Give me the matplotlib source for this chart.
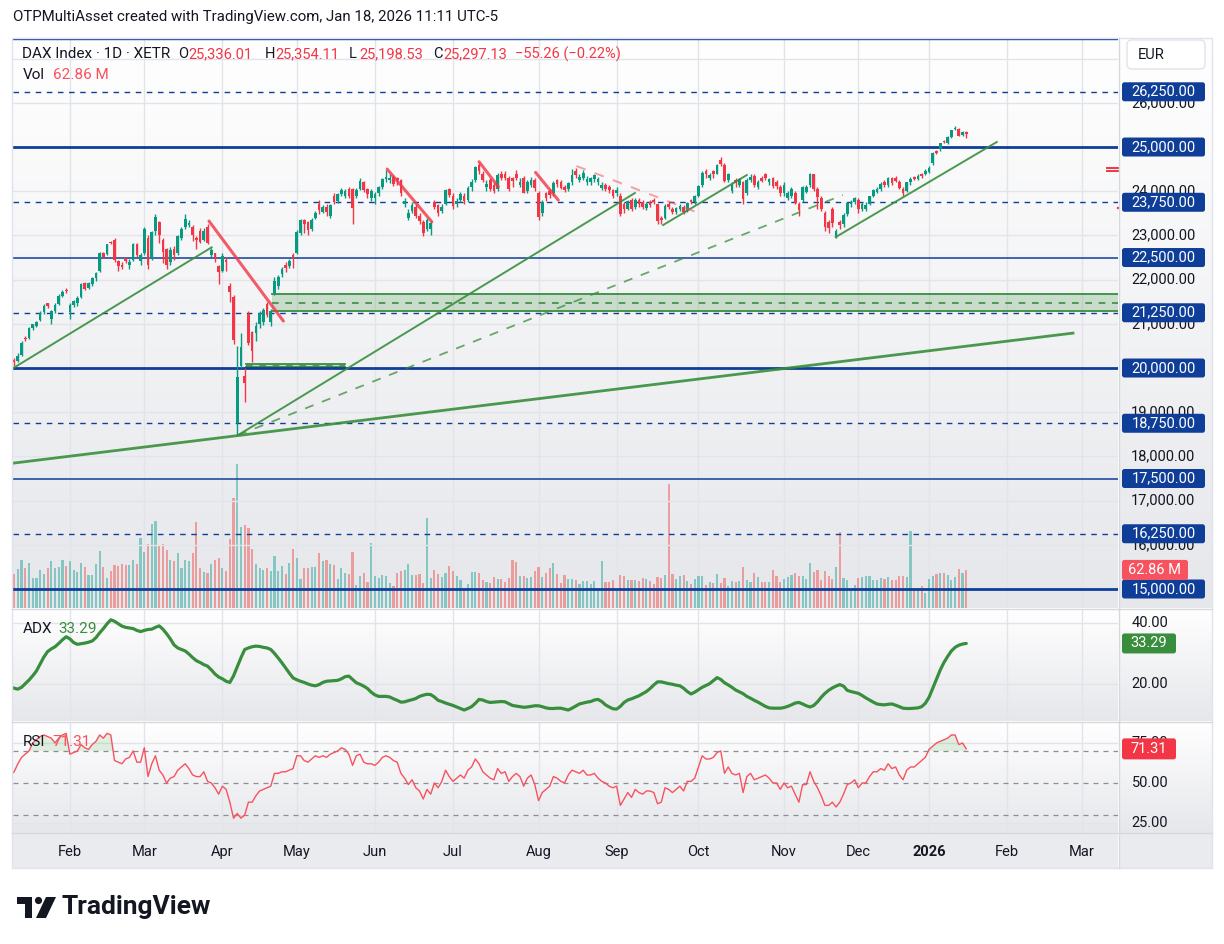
import numpy as np
import pandas as pd
import matplotlib.pyplot as plt
from matplotlib.colors import LinearSegmentedColormap
from matplotlib.patches import FancyBboxPatch, Rectangle, Circle, Polygon

plt.rcParams['font.family'] = ['Roboto', 'DejaVu Sans']

# ---------------- data ----------------
holidays = pd.to_datetime(['2025-04-18', '2025-04-21', '2025-05-01', '2025-12-24',
                           '2025-12-25', '2025-12-26', '2025-12-31', '2026-01-01'])
sessions = pd.bdate_range('2025-01-10', '2026-03-31')
sessions = sessions[~sessions.isin(holidays)]

open_ = (
    [20330, 20190, 20150, 20300, 20690, 20680, 20910, 20960, 21090, 21260, 21460, 21100, 21300, 21450, 21640, 21760] +
    [21260, 21420, 21480, 21600, 21930, 21800, 21900, 22030, 22200, 22600, 22580, 22860, 22900, 22430, 22340, 22480, 22330, 22450, 22800, 22420] +
    [22600, 22950, 22500, 23100, 23300, 22900, 22700, 22400, 22700, 22600, 22950, 23200, 23240, 23200, 22950, 23100, 22900, 23200, 22560, 22600, 22300] +
    [22200, 22450, 21850, 21600, 18750, 20050, 19820, 21230, 20810, 20800, 21000, 21050, 21450, 21050, 21700, 21850, 22130, 22330, 22310, 22560] +
    [22600, 23050, 23360, 23300, 23150, 23400, 23700, 23520, 23650, 23450, 23900, 23780, 23940, 23900, 24050, 24050, 23900, 24050, 24200, 24050, 23850] +
    [23850, 23950, 24100, 24270, 24250, 24330, 24300, 24250, 23700, 23400, 23560, 23650, 23450, 23300, 23150, 23150, 23750, 23690, 23550, 23700, 24050] +
    [23900, 23700, 23800, 23900, 23800, 24100, 24250, 24600, 24400, 24100, 24250, 24150, 24050, 24400, 24400, 24300, 24300, 24400, 24150, 24300, 24000, 24150, 24250] +
    [23950, 23500, 23950, 24000, 23950, 24250, 24200, 24100, 24050, 24200, 24450, 24250, 24300, 24200, 24200, 24280, 24200, 24080, 24150, 24100, 24020] +
    [23950, 23900, 23700, 23600, 23800, 23650, 23800, 23750, 23620, 23750, 23800, 23700, 23400, 23400, 23720, 23600, 23520, 23600, 23650, 23550, 23800, 23750] +
    [23900, 24150, 24450, 24300, 24450, 24400, 24700, 24600, 24250, 24000, 24250, 24150, 24200, 23950, 24250, 24350, 24100, 24300, 24380, 24200, 24300, 24200, 24100] +
    [23950, 23850, 23900, 23950, 23700, 23800, 23980, 24150, 24380, 24050, 23850, 23500, 23300, 23600, 22980, 23300, 23250, 23480, 23700, 23760] +
    [23800, 23600, 23600, 23700, 23900, 23980, 24050, 24200, 24150, 24300, 24300, 24200, 24050, 24000, 24200, 24320, 24280, 24400, 24380] +
    [24430, 24640, 24900, 24950, 25140, 25090, 25230, 25400, 25410, 25270, 25336.01]
)
high = (
    [20350, 20230, 20330, 20600, 20720, 20920, 21000, 21070, 21290, 21440, 21480, 21320, 21460, 21680, 21760, 21800] +
    [21470, 21530, 21620, 21920, 21940, 21940, 22070, 22180, 22620, 22620, 22810, 22880, 22940, 22440, 22400, 22500, 22470, 22830, 22830, 22600] +
    [23200, 23000, 23100, 23475, 23320, 22940, 22720, 22730, 22750, 23000, 23200, 23480, 23350, 23230, 22990, 23160, 23170, 23260, 22720, 22610, 22330] +
    [22600, 22520, 21930, 21650, 20500, 20800, 20000, 21300, 20840, 21050, 21300, 21360, 21500, 21340, 22050, 22100, 22280, 22400, 22460, 22600] +
    [23120, 23380, 23380, 23320, 23400, 23560, 23800, 23680, 23700, 23720, 23950, 23970, 24080, 24060, 24100, 24080, 24070, 24300, 24240, 24080, 24040] +
    [23990, 24120, 24300, 24480, 24390, 24360, 24320, 24280, 23840, 23600, 23760, 23700, 23500, 23350, 23400, 23320, 23800, 23720, 23700, 24060, 24080] +
    [23950, 23850, 23980, 23950, 24120, 24280, 24580, 24640, 24450, 24250, 24300, 24200, 24420, 24450, 24460, 24350, 24330, 24480, 24300, 24350, 24250, 24320, 24300] +
    [24000, 23800, 23980, 24050, 24230, 24280, 24250, 24150, 24220, 24500, 24530, 24380, 24480, 24350, 24330, 24400, 24320, 24200, 24180, 24150, 24050] +
    [24100, 23950, 23750, 23800, 23850, 23850, 23850, 23800, 23750, 23800, 23850, 23720, 23450, 23700, 23760, 23650, 23650, 23720, 23680, 23760, 23830, 23920] +
    [24150, 24450, 24500, 24420, 24480, 24620, 24771, 24640, 24420, 24200, 24300, 24300, 24230, 24300, 24380, 24380, 24250, 24350, 24420, 24300, 24320, 24250, 24150] +
    [24200, 24000, 24100, 24000, 23750, 24120, 24150, 24420, 24400, 24100, 23900, 23550, 23350, 23650, 23150, 23350, 23500, 23750, 23800, 23880] +
    [23850, 23750, 23750, 23900, 24060, 24100, 24200, 24250, 24320, 24320, 24350, 24250, 24100, 24220, 24320, 24350, 24380, 24420, 24510] +
    [24560, 24880, 24930, 25100, 25160, 25240, 25390, 25480, 25440, 25360, 25354.11]
)
low = (
    [20180, 20040, 20140, 20280, 20600, 20660, 20870, 20920, 21070, 21230, 21360, 21000, 21250, 21420, 21600, 21700] +
    [21100, 21370, 21400, 21580, 21770, 21780, 21860, 21960, 22180, 22480, 22550, 22800, 22400, 22200, 22230, 22370, 22250, 22430, 22520, 22330] +
    [22560, 22230, 22450, 23000, 22820, 22380, 22230, 22340, 22450, 22550, 22900, 23150, 23180, 22880, 22700, 22820, 22870, 22800, 22510, 22400, 21900] +
    [22180, 22200, 21500, 20550, 18490, 19990, 19240, 20520, 20130, 20600, 20900, 20980, 21150, 20960, 21650, 21780, 22050, 22180, 22270, 22260] +
    [22580, 23000, 23050, 23000, 23100, 23380, 23480, 23500, 23450, 23400, 23720, 23740, 23900, 23850, 23850, 23250, 23850, 24020, 23980, 23850, 23770] +
    [23700, 23900, 24050, 24220, 24180, 24120, 24150, 23900, 23650, 23350, 23500, 23400, 23250, 22980, 23100, 23000, 23600, 23450, 23500, 23680, 23880] +
    [23600, 23650, 23750, 23700, 23750, 24000, 24200, 24400, 24200, 24000, 24000, 23950, 24000, 24250, 24250, 24000, 24100, 24250, 24100, 23950, 23950, 24100, 24000] +
    [23350, 23450, 23780, 23850, 23900, 24100, 24050, 23980, 24000, 24150, 24300, 24200, 24250, 24150, 24150, 24220, 24150, 24030, 24000, 23950, 23850] +
    [23900, 23450, 23500, 23580, 23550, 23600, 23650, 23600, 23580, 23650, 23700, 23250, 23250, 23380, 23600, 23480, 23480, 23560, 23480, 23520, 23700, 23700] +
    [23880, 24100, 24300, 24250, 24300, 24380, 24580, 24200, 24200, 23950, 24100, 24100, 23700, 23920, 24200, 24100, 24050, 24200, 24250, 24150, 24080, 24050, 23900] +
    [23900, 23800, 23850, 23700, 23450, 23750, 23950, 24100, 24000, 23600, 23550, 23100, 23050, 23200, 22940, 23150, 23200, 23450, 23650, 23700] +
    [23500, 23550, 23550, 23680, 23880, 23950, 24000, 24100, 24100, 24150, 24200, 24050, 23900, 23980, 24150, 24250, 24250, 24300, 24360] +
    [24410, 24600, 24840, 24920, 25080, 25060, 25210, 25380, 25240, 25240, 25198.53]
)
close = (
    [20215, 20132, 20271, 20575, 20655, 20903, 20990, 21043, 21254, 21411, 21395, 21282, 21430, 21637, 21727, 21732] +
    [21428, 21505, 21586, 21902, 21787, 21918, 22037, 22148, 22612, 22513, 22798, 22830, 22434, 22315, 22287, 22425, 22410, 22795, 22551, 22551] +
    [23147, 22327, 23081, 23419, 23009, 22620, 22329, 22676, 22567, 22987, 23154, 23380, 23288, 22999, 22892, 22852, 23109, 22839, 22679, 22461, 22163] +
    [22540, 22390, 21717, 20642, 19789, 20470, 19670, 20560, 20374, 20954, 21254, 21311, 21206, 21294, 21962, 22064, 22242, 22272, 22426, 22497] +
    [23087, 23345, 23249, 23116, 23353, 23499, 23567, 23639, 23527, 23696, 23767, 23935, 24036, 23999, 23900, 23630, 24027, 24226, 24039, 23933, 23997] +
    [23930, 24091, 24276, 24324, 24304, 24174, 24246, 23949, 23771, 23516, 23699, 23435, 23317, 23057, 23350, 23270, 23641, 23498, 23649, 24033, 23910] +
    [23673, 23790, 23934, 23787, 24073, 24207, 24550, 24457, 24255, 24160, 24060, 24009, 24370, 24290, 24307, 24042, 24240, 24295, 24217, 23970, 24217, 24262, 24065] +
    [23426, 23757, 23847, 23924, 24193, 24163, 24081, 24024, 24186, 24377, 24359, 24314, 24423, 24277, 24293, 24363, 24273, 24152, 24046, 24039, 23902] +
    [24037, 23487, 23595, 23770, 23597, 23807, 23718, 23633, 23704, 23698, 23749, 23330, 23359, 23675, 23639, 23527, 23611, 23666, 23534, 23739, 23745, 23881] +
    [24113, 24423, 24379, 24378, 24385, 24597, 24611, 24241, 24387, 24136, 24181, 24272, 23830, 24259, 24330, 24151, 24207, 24240, 24309, 24278, 24124, 24118, 23958] +
    [24132, 23949, 24050, 23734, 23569, 24088, 24088, 24381, 24041, 23877, 23590, 23180, 23163, 23278, 23091, 23239, 23465, 23726, 23767, 23836] +
    [23589, 23710, 23693, 23882, 24028, 24046, 24162, 24130, 24294, 24186, 24229, 24076, 23960, 24199, 24288, 24283, 24340, 24351, 24450] +
    [24530, 24860, 24870, 25090, 25110, 25230, 25380, 25420, 25260, 25340, 25297.13]
)
# volume in millions
volume = [
    75.5, 56.2, 64.5, 79.3, 66.1, 74.4, 49.6, 49.6, 62.8, 56.2,
    66.1, 77.7, 66.1, 67.8, 79.3, 69.4, 77.7, 62.8, 59.5, 74.4,
    67.8, 54.5, 54.5, 72.7, 94.2, 67.8, 49.6, 61.2, 71.1, 69.4,
    72.7, 71.1, 71.1, 79.3, 72.7, 115.7, 92.6, 105.8, 138.9, 143.8,
    104.1, 105.8, 95.9, 79.3, 77.7, 90.9, 66.1, 79.3, 77.7, 90.9,
    142.2, 66.1, 59.5, 57.9, 72.7, 79.3, 82.7, 66.1, 61.2, 114.1,
    181.8, 238.0, 133.9, 137.2, 132.2, 97.5, 72.7, 66.1, 62.8, 66.1,
    61.2, 86.0, 61.2, 69.4, 56.2, 74.4, 97.5, 82.7, 47.9, 66.1,
    66.1, 67.8, 67.8, 90.9, 77.7, 79.3, 72.7, 71.1, 47.9, 66.1,
    57.9, 56.2, 92.6, 38.0, 52.9, 57.9, 43.0, 107.4, 52.9, 49.6,
    54.5, 52.9, 41.3, 36.4, 57.9, 61.2, 62.8, 72.7, 54.5, 54.5,
    56.2, 41.3, 148.8, 49.6, 62.8, 56.2, 51.2, 57.9, 69.4, 61.2,
    52.9, 46.3, 33.1, 39.7, 59.5, 59.5, 57.9, 46.3, 43.0, 41.3,
    51.2, 47.9,
    47.9, 43.0, 49.6, 79.3, 76.0, 52.9, 52.9, 49.6, 51.2, 61.2,
    67.8, 51.2, 57.9, 66.1, 74.4, 56.2, 41.3, 54.5, 47.9, 47.9,
    46.3, 39.7, 44.6, 44.6, 39.7, 44.6, 31.4, 77.7, 43.0, 43.0,
    46.3, 28.1, 54.5, 52.9, 46.3, 46.3, 46.3, 44.6, 49.6, 47.9,
    44.6, 39.7, 51.2, 49.6, 54.5, 205.0, 56.2, 47.9, 52.9, 54.5,
    44.6, 39.7, 47.9, 52.9, 52.9, 38.0, 43.0, 41.3, 56.2, 41.3,
    49.6, 36.4, 44.6, 43.0, 44.6, 67.8, 46.3, 43.0, 57.9, 51.2,
    43.0, 43.0, 43.0, 62.8, 52.9, 43.0, 47.9, 51.2, 54.5, 57.9,
    52.9, 52.9, 47.9, 74.4, 59.5, 62.8, 46.3, 61.2, 52.9, 47.9,
    67.8, 125.6, 49.6, 46.3, 31.4, 38.0, 49.6, 51.2, 52.9, 52.9,
    46.3, 46.3, 49.6, 47.9, 51.2, 46.3, 46.3, 52.9, 52.9, 51.2,
    127.3, 33.1, 29.8, 36.4, 24.8, 47.9, 52.9, 56.2, 57.9, 57.9,
    54.5, 46.3, 51.2, 64.5, 57.9, 62.86,
]
adx = [
    19.0, 18.5, 18.2, 18.8, 20.0, 21.2, 22.6, 24.2, 26.5, 28.8,
    30.6, 31.5, 32.2, 33.3, 34.5, 35.5, 34.8, 33.6, 33.0, 33.2,
    33.4, 33.7, 34.1, 35.2, 36.8, 38.2, 39.8, 41.1, 40.6, 39.8,
    39.0, 38.6, 38.4, 38.2, 37.6, 37.2, 37.6, 37.9, 38.0, 38.6,
    39.1, 38.0, 36.5, 34.8, 32.8, 31.8, 31.3, 30.8, 29.8, 28.6,
    27.6, 27.0, 26.3, 25.8, 24.6, 23.2, 22.2, 21.6, 20.8, 20.4,
    22.6, 25.6, 28.6, 31.3, 31.8, 32.2, 32.4, 32.3, 32.0, 31.8,
    31.3, 30.0, 28.5, 26.9, 25.2, 23.5, 21.9, 21.3, 20.8, 20.4,
    19.9, 19.5, 19.3, 19.7, 20.4, 20.8, 20.9, 21.0, 21.1, 21.6,
    22.3, 22.5, 21.4, 20.3, 19.8, 19.2, 18.4, 17.2, 16.3, 15.8,
    15.8, 15.8, 15.6, 15.0, 14.5, 13.9, 14.0, 14.4, 14.7, 15.1,
    15.8, 16.2, 16.5, 16.4, 15.6, 14.5, 14.1, 13.6, 13.2, 12.8,
    12.3, 11.8, 11.3, 11.8, 12.4, 13.5, 14.8, 14.6, 14.1, 13.8,
    13.9, 14.0, 14.1, 14.0, 13.4, 12.8, 12.6, 12.4, 12.2, 12.3,
    12.5, 12.7, 12.7, 12.4, 12.0, 11.8, 11.8, 11.9, 11.9, 11.6,
    11.3, 11.9, 12.6, 13.3, 13.6, 13.9, 14.1, 14.6, 14.8, 14.1,
    13.0, 12.3, 11.7, 11.6, 12.5, 13.8, 14.6, 15.0, 15.5, 16.0,
    16.7, 17.4, 18.4, 19.6, 20.6, 20.6, 20.3, 20.0, 19.8, 19.5,
    19.3, 18.5, 17.4, 16.6, 17.2, 18.0, 18.8, 19.4, 20.0, 21.0,
    22.0, 21.4, 20.3, 19.6, 18.8, 17.9, 17.3, 16.7, 15.8, 15.2,
    14.5, 13.9, 13.2, 12.5, 12.0, 11.9, 11.9, 11.9, 12.1, 12.5,
    13.0, 13.6, 13.8, 13.3, 12.7, 12.3, 12.8, 14.0, 15.5, 16.8,
    17.8, 18.6, 19.2, 19.7, 19.2, 17.8, 17.4, 17.1, 16.8, 16.1,
    15.3, 14.6, 13.9, 13.3, 13.1, 13.0, 13.2, 13.3, 12.9, 12.4,
    11.9, 11.8, 11.8, 11.9, 12.0, 12.4, 13.5, 15.5, 18.5, 21.5,
    24.5, 27.0, 29.0, 30.8, 32.0, 32.7, 33.1, 33.29,
]
rsi = [
    55, 57, 62, 66, 68, 70, 75, 77, 79, 80,
    79, 78, 75, 78, 80, 81, 68, 69, 70, 74,
    72, 71, 74, 76, 80, 78, 81, 80, 64, 63,
    62, 65, 66, 70, 63, 63, 72, 54, 62, 67,
    58, 55, 50, 53, 54, 58, 60, 62, 59, 55,
    54, 54, 57, 51, 50, 47, 43, 48, 46, 38,
    28, 31, 28, 30, 38, 38, 42, 45, 46, 47,
    48, 56, 56, 57, 57, 58, 59, 67, 67, 64,
    63, 65, 67, 66, 67, 66, 68, 69, 70, 72,
    71, 68, 61, 67, 68, 63, 62, 62, 61, 63,
    66, 67, 66, 64, 63, 56, 53, 49, 52, 47,
    45, 40, 46, 43, 50, 47, 51, 58, 54, 51,
    53, 55, 53, 58, 60, 65, 62, 57, 55, 53,
    52, 59, 56, 57, 51, 54, 56, 54, 48, 53,
    55, 49, 39, 44, 46, 48, 54, 53, 51, 50,
    55, 58, 57, 56, 58, 55, 55, 56, 53, 51,
    50, 48, 47, 48, 36, 40, 44, 41, 46, 44,
    43, 45, 45, 44, 37, 38, 47, 46, 44, 46,
    48, 45, 51, 51, 53, 60, 67, 65, 65, 66,
    69, 70, 56, 60, 56, 55, 56, 44, 54, 56,
    52, 53, 54, 55, 53, 50, 50, 46, 50, 47,
    48, 43, 38, 49, 49, 57, 51, 47, 42, 36,
    36, 38, 35, 38, 43, 49, 50, 52, 47, 50,
    50, 54, 57, 57, 59, 58, 62, 59, 60, 55,
    52, 58, 60, 60, 62, 64, 66, 71, 73, 75,
    76, 77, 78, 80, 80, 74, 75, 71.31,
]

# user drawings: (bar index, price)
level_prices = [26250, 25000, 23750, 22500, 21250, 20000, 18750, 17500, 16250, 15000]
level_kinds = ['dash', 'thick', 'dash', 'thin', 'dash', 'thick', 'dash', 'thin', 'dash', 'thick']
scale_ticks = [26000, 24000, 23000, 22000, 21000, 19000, 18000, 17000, 16000]
green_lines = [((0.8, 20000), (54.1, 22730)), ((61.2, 18481), (167.9, 23959)),
               ((0.7, 17847), (285.7, 20790)), ((175.5, 23235), (198.0, 24366)),
               ((221.9, 22963), (265.2, 25113))]
green_dashed = [((61.2, 18481), (223.8, 23914))]
red_lines = [((53.4, 23325), (73.4, 21062)), ((101.3, 24502), (113.3, 23309)),
             ((126.0, 24667), (131.2, 24101)), ((141.2, 24426), (147.3, 23800))]
red_dashed = [((152.2, 24570), (185.8, 23483))]
zones = [(70.4, 300.0, 21289, 21673), (63.3, 89.9, 20016, 20082)]

# ---------------- figure ----------------
W, H = 1224, 944
fig = plt.figure(figsize=(W / 100, H / 100), dpi=100)
fig.patch.set_facecolor('white')

DARK = '#131722'
UP, DN = '#089981', '#f23645'
BLUE = '#0f3e98'
GREEN = '#388e3c'
GRID = '#e2e4e9'

XL = (0.7, 297.8)
MAIN_Y = (14570, 27467)
VOL_Y = (0, 941)
ADX_Y = (7.67, 44.67)
RSI_Y = (18.75, 88.1)


def px_axes(x0, y0, x1, y1):
    a = fig.add_axes([x0 / W, 1 - y1 / H, (x1 - x0) / W, (y1 - y0) / H])
    a.set_xticks([])
    a.set_yticks([])
    for s in a.spines.values():
        s.set_visible(False)
    return a


def gradient(a, top='#ffffff', bottom='#e6e7eb'):
    cm = LinearSegmentedColormap.from_list('bg', [bottom, top])
    a.imshow(np.linspace(0, 1, 256)[:, None], cmap=cm, aspect='auto', extent=(0, 1, 0, 1),
             origin='lower', transform=a.transAxes, zorder=-20)


x = np.arange(len(close))
o, h, l, c = map(np.array, (open_, high, low, close))
up = c >= o

# month ticks
per = sessions.to_period('M')
tick_pos, tick_lab = [], []
for k in range(1, len(sessions)):
    if per[k] != per[k - 1]:
        tick_pos.append(k)
        d = sessions[k]
        tick_lab.append(str(d.year) if d.month == 1 else d.strftime('%b'))

# ----- main pane: volume underneath -----
ax_v = px_axes(13, 38, 1118, 608)
gradient(ax_v)
for t in tick_pos:
    ax_v.axvline(t, color=GRID, lw=1, zorder=-5)
ax_v.bar(x, volume, width=0.58, color=np.where(up, '#26a69a', '#ef5350'), alpha=0.5, lw=0)
ax_v.set_xlim(XL)
ax_v.set_ylim(VOL_Y)

ax = px_axes(13, 38, 1118, 608)
ax.patch.set_alpha(0)
for p in range(15000, 27001, 1000):
    ax.axhline(p, color=GRID, lw=1, zorder=0)
ax.axhline(27445, color=BLUE, lw=1.0, zorder=2)
for p, kind in zip(level_prices, level_kinds):
    if kind == 'dash':
        ax.axhline(p, color=BLUE, lw=1.0, ls=(0, (4, 4)), zorder=2)
    elif kind == 'thick':
        ax.axhline(p, color=BLUE, lw=2.0, zorder=2)
    else:
        ax.axhline(p, color=BLUE, lw=1.1, zorder=2)

for x0, x1, y0, y1 in zones:
    ax.add_patch(Rectangle((x0, y0), x1 - x0, y1 - y0, facecolor=GREEN, alpha=0.22, lw=0, zorder=1.5))
    ax.plot([x0, x1], [y0, y0], color=GREEN, lw=1.3, zorder=1.6)
    ax.plot([x0, x1], [y1, y1], color=GREEN, lw=1.3, zorder=1.6)
    ax.plot([x0, x1], [(y0 + y1) / 2] * 2, color=GREEN, lw=1.2, ls=(0, (4, 4)), zorder=1.6)

ax.vlines(x, l, h, colors=np.where(up, UP, DN), lw=1.0, zorder=3)
body = np.maximum(np.abs(c - o), 16)
ax.bar(x, body, bottom=np.minimum(o, c), width=0.72, color=np.where(up, UP, DN), lw=0, zorder=4)

for (a0, b0), (a1, b1) in green_lines:
    ax.plot([a0, a1], [b0, b1], color=GREEN, lw=1.4 if a1 < 280 else 2.0, alpha=0.9, zorder=5)
for (a0, b0), (a1, b1) in green_dashed:
    ax.plot([a0, a1], [b0, b1], color=GREEN, lw=1.3, ls=(0, (5, 5)), alpha=0.75, zorder=5)
for (a0, b0), (a1, b1) in red_lines:
    ax.plot([a0, a1], [b0, b1], color='#f23645', lw=2.2, alpha=0.8, zorder=5,
            solid_capstyle='round')
for (a0, b0), (a1, b1) in red_dashed:
    ax.plot([a0, a1], [b0, b1], color='#f7525f', lw=1.4, ls=(0, (5, 5)), alpha=0.55, zorder=5)
# small red price markers at the edge
ax.plot([294.8, 297.8], [24525, 24525], color=DN, lw=1.4, clip_on=False, zorder=6)
ax.plot([294.8, 297.8], [24457, 24457], color=DN, lw=1.4, clip_on=False, zorder=6)
ax.plot([297.8, 298.8], [23620, 23620], color=DN, lw=1.6, clip_on=False, zorder=6)
ax.set_xlim(XL)
ax.set_ylim(MAIN_Y)

# ----- ADX pane -----
ax_a = px_axes(13, 609, 1118, 721)
gradient(ax_a)
for t in tick_pos:
    ax_a.axvline(t, color=GRID, lw=1, zorder=-5)
for lv in (40, 20):
    ax_a.axhline(lv, color=GRID, lw=1, zorder=-5)
ax_a.plot(x, adx, color=GREEN, lw=2.3, solid_capstyle='round')
ax_a.set_xlim(XL)
ax_a.set_ylim(ADX_Y)

# ----- RSI pane -----
ax_r = px_axes(13, 722, 1118, 833)
gradient(ax_r)
for t in tick_pos:
    ax_r.axvline(t, color=GRID, lw=1, zorder=-5)
for lv in (75, 25):
    ax_r.axhline(lv, color=GRID, lw=1, zorder=-5)
rs = np.array(rsi)
ax_r.fill_between(x, rs, 70, where=rs > 70, interpolate=True, color='#4caf50', alpha=0.16, lw=0)
ax_r.fill_between(x, rs, 30, where=rs < 30, interpolate=True, color='#f23645', alpha=0.16, lw=0)
for lv in (70, 50, 30):
    ax_r.axhline(lv, color='#8b8e97', lw=0.9, ls=(0, (4, 4)))
ax_r.plot(x, rs, color='#f7525f', lw=1.0)
ax_r.set_xlim(XL)
ax_r.set_ylim(RSI_Y)

# ----- time axis -----
ax_t = px_axes(13, 833, 1118, 868)
ax_t.set_facecolor('#eaebee')
ax_t.set_xlim(XL)
ax_t.set_ylim(0, 1)
for t, lab in zip(tick_pos, tick_lab):
    if t < XL[1]:
        ax_t.text(t, 0.45, lab, ha='center', va='center', fontsize=10.5, color=DARK,
                  fontweight='bold' if lab.isdigit() else 'normal')


# ----- right scales -----
def scale_axes(y0, y1, ylim, grad=True):
    a = px_axes(1119, y0, 1212, y1)
    if grad:
        gradient(a)
    else:
        a.patch.set_alpha(0)
    a.set_xlim(1119, 1212)
    a.set_ylim(ylim)
    return a


px_pane = {}


def tag(a, y, s, face, px_h, x0=1122, x1=1205, ylim=None):
    per_px = (ylim[1] - ylim[0]) / px_pane[id(a)]
    hh = px_h * per_px
    a.add_patch(FancyBboxPatch((x0, y - hh / 2), x1 - x0, hh,
                               boxstyle='round,pad=0,rounding_size=2.5',
                               mutation_aspect=per_px, facecolor=face, edgecolor='none', zorder=5))
    a.text((x0 + x1) / 2, y, s, color='white', fontsize=10.5, ha='center', va='center', zorder=6)


ps_m = scale_axes(38, 608, MAIN_Y)
px_pane[id(ps_m)] = 570
ps_vol = scale_axes(38, 608, VOL_Y, grad=False)
px_pane[id(ps_vol)] = 570
ps_a = scale_axes(609, 721, ADX_Y)
px_pane[id(ps_a)] = 112
ps_r = scale_axes(722, 833, RSI_Y)
px_pane[id(ps_r)] = 111
ps_t = px_axes(1119, 833, 1212, 868)
ps_t.set_facecolor('#eaebee')

for p in scale_ticks:
    ps_m.text(1163, p, f'{p:,.2f}', fontsize=10.5, color=DARK, ha='center', va='center', zorder=2)
tag(ps_vol, volume[-1], f'{volume[-1]:.2f} M', '#f7525f', 20, x1=1188, ylim=VOL_Y)
for p in level_prices:
    tag(ps_m, p, f'{p:,.2f}', BLUE, 19, ylim=MAIN_Y)
ppx = (MAIN_Y[1] - MAIN_Y[0]) / 570
ps_m.add_patch(FancyBboxPatch((1127, MAIN_Y[1] - 31 * ppx), 78, 29 * ppx,
                              boxstyle='round,pad=0,rounding_size=5', mutation_aspect=ppx,
                              facecolor='white', edgecolor='#e0e3eb', lw=1, zorder=3))
ps_m.text(1138, MAIN_Y[1] - 17 * ppx, 'EUR', fontsize=10.5, color=DARK, va='center', zorder=4)

for lv in (40, 20):
    ps_a.text(1150, lv, f'{lv:.2f}', fontsize=10.5, color=DARK, ha='center', va='center')
tag(ps_a, adx[-1], f'{adx[-1]:.2f}', GREEN, 20, x1=1176, ylim=ADX_Y)
for lv in (75, 50, 25):
    ps_r.text(1150, lv, f'{lv:.2f}', fontsize=10.5, color=DARK, ha='center', va='center')
tag(ps_r, rsi[-1], f'{rsi[-1]:.2f}', '#f23645', 21, x1=1176, ylim=RSI_Y)

# ----- overlay: texts, separators, logo -----
ov = fig.add_axes([0, 0, 1, 1])
ov.set_xlim(0, W)
ov.set_ylim(H, 0)
ov.axis('off')
ov.patch.set_alpha(0)

for yy in (608.5, 721.5, 833):
    ov.plot([12, 1212], [yy, yy], color='#d6d8de', lw=1)
ov.plot([1118.5, 1118.5], [38, 868], color='#d6d8de', lw=1)
ov.add_patch(Rectangle((12, 37.5), 1200, 830.5, fill=False, edgecolor='#e0e3eb', lw=1))


def t(px, py, s, color=DARK, size=10.5, weight='normal'):
    ov.text(px, py, s, color=color, fontsize=size, fontweight=weight, va='center', ha='left')


t(13, 17, 'OTPMultiAsset created with TradingView.com, Jan 18, 2026 11:11 UTC-5', size=10.8)
t(22, 54, 'DAX Index · 1D · XETR', size=11)
for px_, lab, val in [(178, 'O', o[-1]), (265, 'H', h[-1]), (349, 'L', l[-1]), (433, 'C', c[-1])]:
    t(px_, 54, lab)
    t(px_ + 10, 54, f'{val:,.2f}', color=DN)
t(515, 54, '\u221255.26 (\u22120.22%)', color=DN)
t(23, 75, 'Vol', size=11)
t(53, 75, f'{volume[-1]:.2f} M', color='#f7525f', size=11)
t(23, 629, 'ADX', size=11)
t(58, 629, f'{adx[-1]:.2f}', color=GREEN, size=11)
t(23, 742, 'RSI', size=11)
t(52, 742, f'{rsi[-1]:.2f}', color='#f7525f', size=11)

# TradingView logo
ov.add_patch(Polygon([(17, 897), (32, 897), (32, 918), (25, 918), (25, 904), (17, 904)],
                     closed=True, facecolor=DARK, lw=0))
ov.add_patch(Circle((38.5, 900.5), 3.6, facecolor=DARK, lw=0))
ov.add_patch(Polygon([(46, 897), (56, 897), (46, 918), (36, 918)], closed=True, facecolor=DARK, lw=0))
t(61, 907, 'TradingView', size=19, weight='bold')

fig.savefig('out.png', dpi=100, facecolor='white')
